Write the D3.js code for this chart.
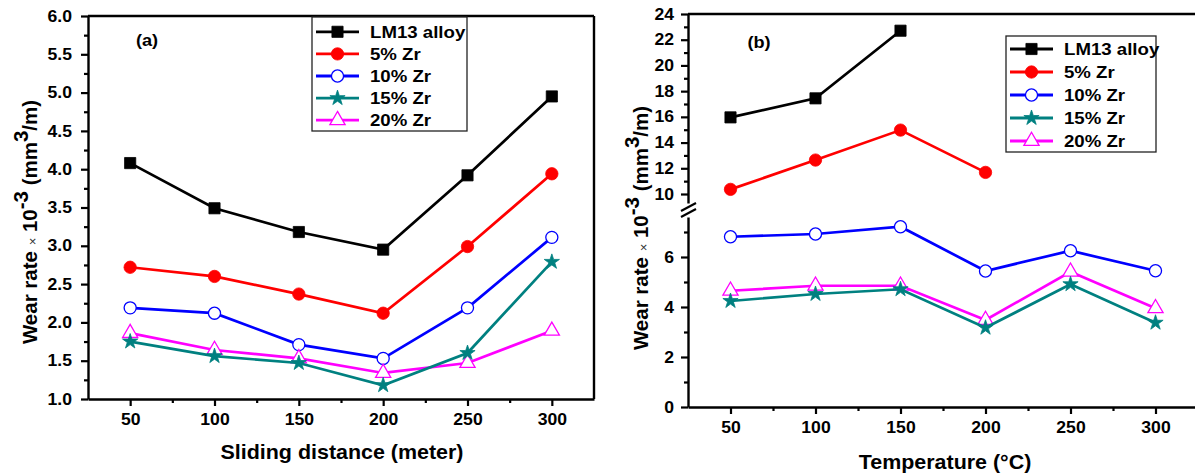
<!DOCTYPE html>
<html><head><meta charset="utf-8">
<script src="https://cdn.jsdelivr.net/npm/d3@7"></script>
<style>
body{margin:0;background:#fff;}
svg{display:block;font-family:"Liberation Sans",Arial,sans-serif;}
svg text{font-family:"Liberation Sans",Arial,sans-serif;}
</style></head><body>
<svg id="c" width="1195" height="475"></svg>
<script>
// ---------- data ----------
const xValues = [50, 100, 150, 200, 250, 300];
const seriesNames = ["LM13 alloy", "5% Zr", "10% Zr", "15% Zr", "20% Zr"];
const seriesColors = ["#000000", "#ff0000", "#0000ff", "#008080", "#ff00ff"];
const seriesMarkers = ["square", "circleFilled", "circleOpen", "star", "triangleOpen"];

// panel (a): wear rate vs sliding distance
const slidingLM13 = [4.08, 3.49, 3.18, 2.95, 3.92, 4.95];
const sliding5Zr  = [2.72, 2.60, 2.37, 2.12, 2.99, 3.94];
const sliding10Zr = [2.19, 2.12, 1.71, 1.53, 2.19, 3.11];
const sliding15Zr = [1.75, 1.56, 1.47, 1.18, 1.60, 2.79];
const sliding20Zr = [1.86, 1.64, 1.53, 1.34, 1.47, 1.89];

// panel (b): wear rate vs temperature
const tempLM13 = [15.96, 17.44, 22.70];
const temp5Zr  = [10.36, 12.64, 14.97, 11.68];
const temp10Zr = [6.81, 6.92, 7.21, 5.44, 6.25, 5.45];
const temp15Zr = [4.24, 4.52, 4.71, 3.17, 4.91, 3.37];
const temp20Zr = [4.65, 4.85, 4.85, 3.48, 5.41, 3.95];

const xTicks = [50, 100, 150, 200, 250, 300];
const xMinorTicks = [25, 75, 125, 175, 225, 275, 325];
const yTicksA = [1.0, 1.5, 2.0, 2.5, 3.0, 3.5, 4.0, 4.5, 5.0, 5.5, 6.0];
const yMinorTicksA = [1.25, 1.75, 2.25, 2.75, 3.25, 3.75, 4.25, 4.75, 5.25, 5.75];
const yTicksBUpper = [10, 12, 14, 16, 18, 20, 22, 24];
const yMinorTicksBUpper = [11, 13, 15, 17, 19, 21, 23];
const yTicksBLower = [0, 2, 4, 6];
const yMinorTicksBLower = [1, 3, 5, 7];

// ---------- drawing ----------
const svg = d3.select("#c");
const FONT = "'Liberation Sans', Arial, sans-serif";
const SX = 1.1; // horizontal stretch of the text in the reference

function markerPath(type) {
  const s = {square: d3.symbolSquare, circleFilled: d3.symbolCircle, circleOpen: d3.symbolCircle,
             star: d3.symbolStar, triangleOpen: d3.symbolTriangle}[type];
  const size = {square: 125, circleFilled: 120, circleOpen: 115, star: 72, triangleOpen: 100}[type];
  return d3.symbol().type(s).size(size)();
}
function drawMarker(g, type, x, y, color) {
  const open = type === "circleOpen" || type === "triangleOpen";
  g.append("path").attr("d", markerPath(type))
    .attr("transform", `translate(${x},${y})`)
    .attr("fill", open ? "#fff" : color)
    .attr("stroke", color)
    .attr("stroke-width", open ? 1.3 : 0.8);
}
function styleAxis(g) {
  g.attr("font-family", FONT);
  g.select(".domain").attr("stroke", "#000").attr("stroke-width", 2.4);
  g.selectAll(".tick line").attr("stroke", "#000").attr("stroke-width", 2.2);
  g.selectAll(".tick text").attr("fill", "#000").attr("font-size", 16)
    .attr("font-family", FONT).attr("font-weight", "bold");
}
function yAxis(x, scale, major, minor, fmt, labelOffset) {
  const g = svg.append("g").attr("transform", `translate(${x},0)`)
    .call(d3.axisLeft(scale).tickValues(major).tickSize(7).tickSizeOuter(0).tickFormat(fmt));
  styleAxis(g);
  g.selectAll(".tick text").attr("x", -labelOffset / SX).attr("transform", `scale(${SX},1)`);
  const m = svg.append("g").attr("transform", `translate(${x},0)`)
    .call(d3.axisLeft(scale).tickValues(minor).tickSize(4).tickSizeOuter(0).tickFormat(""));
  m.select(".domain").remove();
  m.selectAll(".tick line").attr("stroke", "#000").attr("stroke-width", 2.2);
}
function xAxis(y, scale) {
  const g = svg.append("g").attr("transform", `translate(0,${y})`)
    .call(d3.axisBottom(scale).tickValues(xTicks).tickSize(7).tickSizeOuter(0).tickFormat(d3.format("d")));
  styleAxis(g);
  g.selectAll(".tick text").attr("y", 15).attr("dy", "0.71em").attr("transform", `scale(${SX},1)`)
    .attr("x", 0);
  const m = svg.append("g").attr("transform", `translate(0,${y})`)
    .call(d3.axisBottom(scale).tickValues(xMinorTicks.filter(v => v > scale.domain()[0] && v < scale.domain()[1]))
      .tickSize(4).tickSizeOuter(0).tickFormat(""));
  m.select(".domain").remove();
  m.selectAll(".tick line").attr("stroke", "#000").attr("stroke-width", 2.2);
}
function drawSeries(xs, ys, xScale, yScale, color, type) {
  const pts = ys.map((v, i) => [xScale(xs[i]), yScale(v)]);
  svg.append("path").attr("d", d3.line()(pts)).attr("fill", "none")
    .attr("stroke", color).attr("stroke-width", 2.7).attr("stroke-linejoin", "miter");
  const g = svg.append("g");
  pts.forEach(p => drawMarker(g, type, p[0], p[1], color));
}
function legend(x0, y0, w, h, rowY0, dy) {
  svg.append("rect").attr("x", x0).attr("y", y0).attr("width", w).attr("height", h)
    .attr("fill", "#fff").attr("stroke", "#222").attr("stroke-width", 1.3);
  seriesNames.forEach((name, i) => {
    const y = rowY0 + i * dy;
    svg.append("line").attr("x1", x0 + 4).attr("x2", x0 + 47).attr("y1", y).attr("y2", y)
      .attr("stroke", seriesColors[i]).attr("stroke-width", 2.8);
    drawMarker(svg, seriesMarkers[i], x0 + 25.5, y, seriesColors[i]);
    svg.append("text").attr("transform", `translate(${x0 + 58},${y + 6}) scale(1.13,1)`)
      .attr("font-size", 16.5).attr("font-weight", "bold").attr("fill", "#000").text(name);
  });
}
function yLabel(x, y) {
  const t = svg.append("text").attr("transform", `translate(${x},${y}) rotate(-90)`)
    .attr("text-anchor", "middle").attr("font-size", 20.5).attr("font-weight", "bold").attr("fill", "#000");
  t.append("tspan").text("Wear rate ");
  t.append("tspan").attr("font-weight", "normal").attr("font-size", 13).attr("fill", "#333").text("×");
  t.append("tspan").text(" 10");
  t.append("tspan").attr("dy", -9).text("-3");
  t.append("tspan").attr("dy", 9).text(" (mm");
  t.append("tspan").attr("dy", -9).text("3");
  t.append("tspan").attr("dy", 9).text("/m)");
}
function xLabel(x, y, txt) {
  svg.append("text").attr("transform", `translate(${x},${y}) scale(1.1,1)`)
    .attr("text-anchor", "middle").attr("font-size", 19.5).attr("font-weight", "bold")
    .attr("fill", "#000").text(txt);
}

// ===== Panel (a) =====
const xA = d3.scaleLinear().domain([25, 325]).range([88, 594]);
const yA = d3.scaleLinear().domain([1, 6]).range([399, 16]);
svg.append("line").attr("x1", 88).attr("x2", 594).attr("y1", 16).attr("y2", 16)
  .attr("stroke", "#000").attr("stroke-width", 2.4);
svg.append("line").attr("x1", 594).attr("x2", 594).attr("y1", 16).attr("y2", 399)
  .attr("stroke", "#000").attr("stroke-width", 2.4);
yAxis(88, yA, yTicksA, yMinorTicksA, d3.format(".1f"), 16);
xAxis(399, xA);
const seriesA = [slidingLM13, sliding5Zr, sliding10Zr, sliding15Zr, sliding20Zr];
[0, 1, 2, 4, 3].forEach(i => drawSeries(xValues, seriesA[i], xA, yA, seriesColors[i], seriesMarkers[i]));
legend(312, 17, 155, 114, 31.8, 22.1);
svg.append("text").attr("transform", "translate(147,46) scale(1.1,1)").attr("text-anchor", "middle")
  .attr("font-size", 16.5).attr("font-weight", "bold").text("(a)");
yLabel(37, 222);
xLabel(342, 459, "Sliding distance (meter)");

// ===== Panel (b) =====
const xB = d3.scaleLinear().domain([25, 325]).range([688, 1198]);
const yBUp = d3.scaleLinear().domain([9.3, 24]).range([203, 14]);
const yBLow = d3.scaleLinear().domain([0, 7.6]).range([407, 217]);
svg.append("line").attr("x1", 688).attr("x2", 1195).attr("y1", 14).attr("y2", 14)
  .attr("stroke", "#000").attr("stroke-width", 2.4);
yAxis(688, yBUp, yTicksBUpper, yMinorTicksBUpper, d3.format("d"), 14);
yAxis(688, yBLow, yTicksBLower, yMinorTicksBLower, d3.format("d"), 14);
xAxis(407, xB);
// axis break marks
[0, 6].forEach(o => {
  svg.append("line").attr("x1", 681).attr("y1", 211 + o).attr("x2", 696).attr("y2", 203 + o)
    .attr("stroke", "#000").attr("stroke-width", 2.2);
});
drawSeries(xValues.slice(0, tempLM13.length), tempLM13, xB, yBUp, seriesColors[0], seriesMarkers[0]);
drawSeries(xValues.slice(0, temp5Zr.length), temp5Zr, xB, yBUp, seriesColors[1], seriesMarkers[1]);
drawSeries(xValues, temp10Zr, xB, yBLow, seriesColors[2], seriesMarkers[2]);
drawSeries(xValues, temp20Zr, xB, yBLow, seriesColors[4], seriesMarkers[4]);
drawSeries(xValues, temp15Zr, xB, yBLow, seriesColors[3], seriesMarkers[3]);
legend(1006, 36, 150, 116, 49, 23);
svg.append("text").attr("transform", "translate(759,48) scale(1.1,1)").attr("text-anchor", "middle")
  .attr("font-size", 16.5).attr("font-weight", "bold").text("(b)");
yLabel(648, 228);
xLabel(945, 469, "Temperature (°C)");
</script>
</body></html>
